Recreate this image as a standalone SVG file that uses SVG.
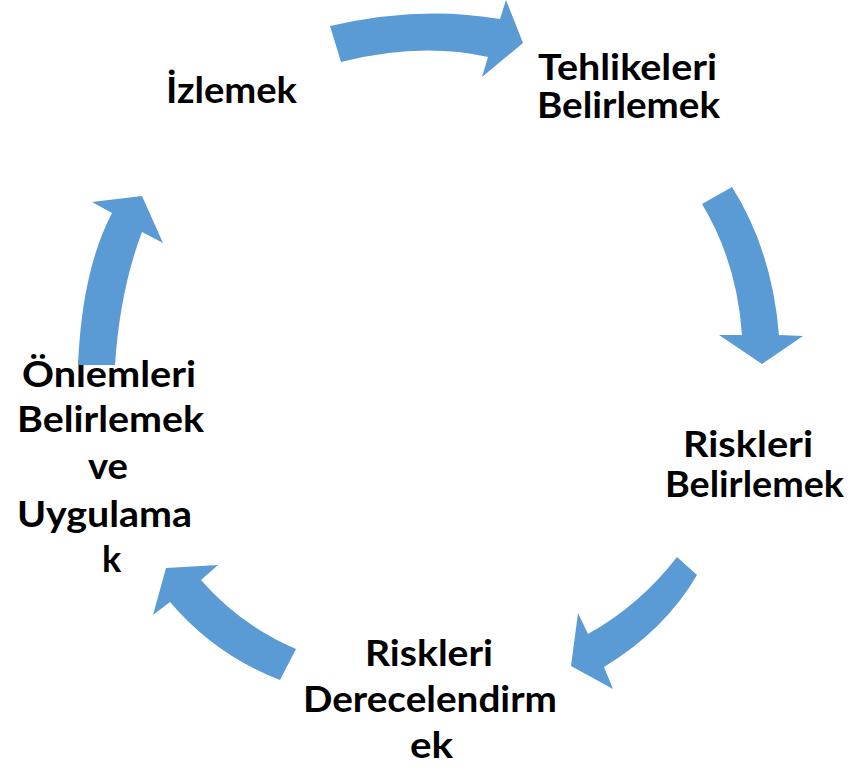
<svg xmlns="http://www.w3.org/2000/svg" width="851" height="767" viewBox="0 0 851 767">
<style>
.t{font-family:Lato,"Noto Sans","Liberation Sans",sans-serif;font-weight:bold;font-size:36px;fill:#000}
.a{fill:#5B9BD5}
</style>
<rect width="851" height="767" fill="#fff"/>
<g id="node-izlemek"><text class="t" x="166" y="102.5" textLength="131" lengthAdjust="spacingAndGlyphs">İzlemek</text></g>
<g id="node-tehlikeleri"><text class="t" x="538" y="80" textLength="179" lengthAdjust="spacingAndGlyphs">Tehlikeleri</text><text class="t" x="537" y="118" textLength="183" lengthAdjust="spacingAndGlyphs">Belirlemek</text></g>
<g id="node-riskleri-belirlemek"><text class="t" x="683" y="457" textLength="130" lengthAdjust="spacingAndGlyphs">Riskleri</text><text class="t" x="665" y="497" textLength="179" lengthAdjust="spacingAndGlyphs">Belirlemek</text></g>
<g id="node-riskleri-derecelendirmek"><text class="t" x="365" y="666" textLength="128" lengthAdjust="spacingAndGlyphs">Riskleri</text><text class="t" x="303" y="711.5" textLength="254" lengthAdjust="spacingAndGlyphs">Derecelendirm</text><text class="t" x="410" y="758" textLength="43" lengthAdjust="spacingAndGlyphs">ek</text></g>
<g id="node-onlemleri"><text class="t" x="22" y="386.5" textLength="174" lengthAdjust="spacingAndGlyphs">Önlemleri</text><text class="t" x="17" y="432" textLength="187" lengthAdjust="spacingAndGlyphs">Belirlemek</text><text class="t" x="88" y="479" textLength="40" lengthAdjust="spacingAndGlyphs">ve</text><text class="t" x="17" y="526.5" textLength="175" lengthAdjust="spacingAndGlyphs">Uygulama</text><text class="t" x="102" y="572">k</text></g>
<g id="connectors">
<path class="a" d="M 330 26 Q 420 5 500 19 L 506 0 L 523 43 L 482 77 L 488 57 Q 420 42 341 62 Z"/>
<path class="a" d="M 732 187 Q 772 250 779 335 L 803 336 L 762 364 L 719 335 L 742 335 Q 737 262 702 204 Z"/>
<path class="a" d="M 677 557 Q 640 605 588 634 L 578 613 L 571 666 L 613 689 L 604 667 Q 665 630 697 575 Z"/>
<path class="a" d="M 296 649 Q 240 625 201 580 L 218 565 L 166 568 L 153 615 L 170 602 Q 215 655 280 680 Z"/>
<path class="a" d="M 78 365 Q 82 270 112 213 L 92 202 L 142 196 L 163 243 L 142 232 Q 120 290 115 365 Z"/>
</g>
</svg>
